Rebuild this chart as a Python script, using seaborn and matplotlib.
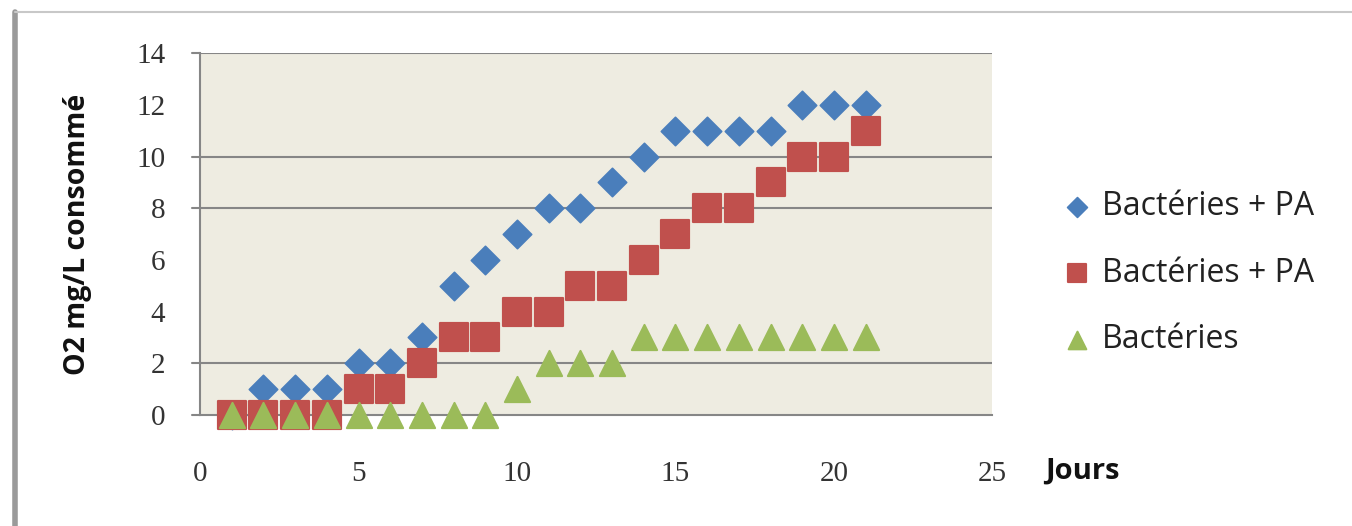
import numpy as np
import pandas as pd
import seaborn as sns
import matplotlib.pyplot as plt
from matplotlib.lines import Line2D

# Données
jours = list(range(1, 22))
bact_pa_1 = [0, 1, 1, 1, 2, 2, 3, 5, 6, 7, 8, 8, 9, 10, 11, 11, 11, 11, 12, 12, 12]
bact_pa_2 = [0, 0, 0, 0, 1, 1, 2, 3, 3, 4, 4, 5, 5, 6, 7, 8, 8, 9, 10, 10, 11]
bact = [0, 0, 0, 0, 0, 0, 0, 0, 0, 1, 2, 2, 2, 3, 3, 3, 3, 3, 3, 3, 3]
labels = ["Bactéries + PA", "Bactéries + PA", "Bactéries"]
x_ticks = [0, 5, 10, 15, 20, 25]
y_ticks = [0, 2, 8, 10, 14]
y_ticklabels = [0, 2, 4, 6, 8, 10, 12, 14]

sns.set_style("white")
plt.rcParams['font.family'] = ['Open Sans', 'DejaVu Sans']

fig = plt.figure(figsize=(13.52, 5.26), dpi=100)
ax = fig.add_axes([0.148, 0.211, 0.586, 0.688])
ax.set_facecolor("#EEECE1")

df = pd.DataFrame({"jour": jours, "a": bact_pa_1, "b": bact_pa_2, "c": bact})

sns.scatterplot(data=df, x="jour", y="a", marker="D", s=210, color="#4A7EBB",
                edgecolor="#4A7EBB", label=labels[0], ax=ax, clip_on=False, zorder=3)
sns.scatterplot(data=df, x="jour", y="b", marker="s", s=380, color="#C0504D",
                edgecolor="#C0504D", label=labels[1], ax=ax, clip_on=False, zorder=4)
sns.scatterplot(data=df, x="jour", y="c", marker="^", s=330, color="#9BBB59",
                edgecolor="#9BBB59", label=labels[2], ax=ax, clip_on=False, zorder=5)

ax.set_xlim(0, 25)
ax.set_ylim(0, 14)

# lignes de quadrillage (seulement celles visibles sur l'image)
for yv in y_ticks[1:]:
    ax.axhline(yv, color="#868686", lw=1.5, zorder=1)

ax.set_xticks(x_ticks)
ax.set_xticklabels([str(v) for v in x_ticks], fontfamily="Liberation Serif", fontsize=21,
                   color="#333333")
ax.set_yticks(y_ticklabels)
ax.set_yticklabels([str(v) for v in y_ticklabels], fontfamily="Liberation Serif", fontsize=21,
                   color="#333333")
ax.tick_params(axis="x", length=5, color="#868686", pad=28)
ax.tick_params(axis="y", length=0, pad=25)
for yv in y_ticks:
    ax.plot([-0.25, 0], [yv, yv], color="#868686", lw=1.5, clip_on=False)

for side in ["top", "right"]:
    ax.spines[side].set_visible(False)
ax.spines["left"].set_color("#868686")
ax.spines["left"].set_linewidth(1.5)
ax.spines["bottom"].set_color("#868686")
ax.spines["bottom"].set_linewidth(1.5)

ax.set_xlabel("")
ax.set_ylabel("O2 mg/L consommé", fontsize=20.5, fontweight="bold", labelpad=32,
              color="#111111")
fig.text(0.773, 0.105, "Jours", fontsize=21, fontweight="bold", va="center", color="#111111")

leg = ax.legend(loc="center left", bbox_to_anchor=(1.07, 0.392), frameon=False,
                fontsize=23, labelspacing=1.05, markerscale=0.7, handlelength=1.0,
                handletextpad=0.3, borderaxespad=0)
for t in leg.get_texts():
    t.set_color("#222222")

# cadre du graphique
fig.add_artist(Line2D([0.011, 0.011], [0.0, 0.977], color="#9A9A9A", lw=4))
fig.add_artist(Line2D([0.011, 1.0], [0.977, 0.977], color="#C8C8C8", lw=1.5))

fig.savefig("out.png", dpi=100)
